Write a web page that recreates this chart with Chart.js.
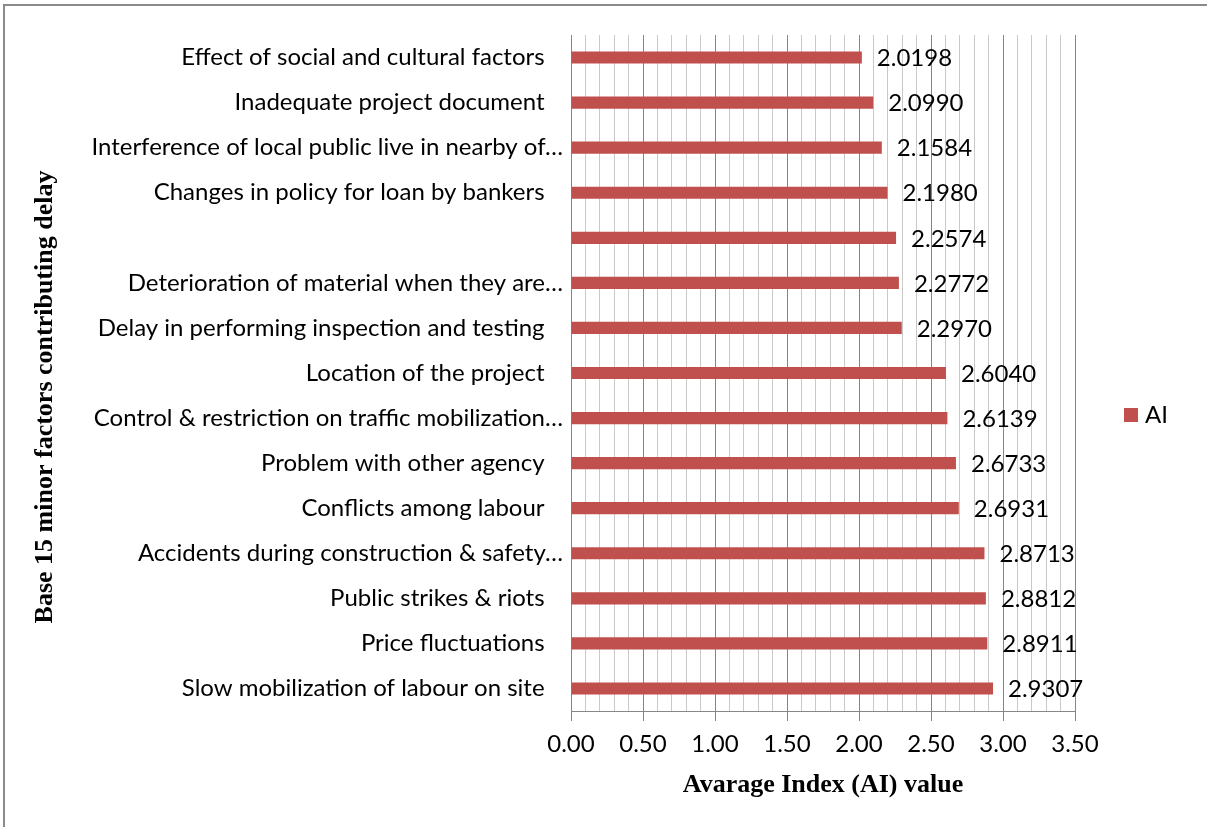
<!DOCTYPE html>
<html>
<head>
<meta charset="utf-8">
<script src="https://cdn.jsdelivr.net/npm/chart.js@4.4.1/dist/chart.umd.min.js"></script>
<style>
  html, body { margin: 0; padding: 0; background: #ffffff; }
  #wrap { width: 1207px; height: 827px; }
</style>
</head>
<body>
<div id="wrap"><canvas id="c" width="1207" height="827"></canvas></div>
<script>
// ---- data ----
const categories = [
  "Effect of social and cultural factors   ",
  "Inadequate project document   ",
  "Interference of local public live in nearby of…",
  "Changes in policy for loan by bankers   ",
  "",
  "Deterioration of material when they are…",
  "Delay in performing inspection and testing   ",
  "Location of the project   ",
  "Control & restriction on traffic mobilization…",
  "Problem with other agency   ",
  "Conflicts among labour   ",
  "Accidents during construction & safety…",
  "Public strikes & riots   ",
  "Price fluctuations   ",
  "Slow mobilization of labour on site   "
];
const aiValues = [2.0198, 2.0990, 2.1584, 2.1980, 2.2574, 2.2772, 2.2970, 2.6040, 2.6139, 2.6733, 2.6931, 2.8713, 2.8812, 2.8911, 2.9307];
const seriesName = "AI";
const xMajorTicks = [0, 0.5, 1, 1.5, 2, 2.5, 3, 3.5];
const xTitle = "Avarage Index (AI) value";
const yTitle = "Base 15 minor factors contributing delay";

const BAR = '#C0504D';
const MAJOR = '#868686';
const MINOR = '#c9c9c9';
const LABEL_FONT = 'Lato, "Open Sans", sans-serif';
const TITLE_FONT = '"Liberation Serif", "Times New Roman", serif';

function isMajor(v) {
  return xMajorTicks.some(t => Math.abs(t - v) < 1e-6);
}

const framePlugin = {
  id: 'frame',
  beforeDraw(chart) {
    const ctx = chart.ctx;
    ctx.save();
    ctx.fillStyle = '#ffffff';
    ctx.fillRect(0, 0, chart.width, chart.height);
    ctx.strokeStyle = '#8a8a8a';
    ctx.lineWidth = 2;
    ctx.beginPath();
    ctx.moveTo(4, chart.height);
    ctx.lineTo(4, 5);
    ctx.lineTo(chart.width, 5);
    ctx.stroke();
    ctx.restore();
  }
};

const valueLabelPlugin = {
  id: 'valueLabels',
  afterDatasetsDraw(chart) {
    const ctx = chart.ctx;
    ctx.save();
    ctx.font = '24px ' + LABEL_FONT;
    ctx.fillStyle = '#000000';
    ctx.textAlign = 'left';
    ctx.textBaseline = 'middle';
    chart.data.datasets.forEach((ds, di) => {
      const meta = chart.getDatasetMeta(di);
      meta.data.forEach((bar, i) => {
        ctx.fillText(Number(ds.data[i]).toFixed(4), bar.x + 15, bar.y + 1);
      });
    });
    ctx.restore();
  }
};

const sideTextPlugin = {
  id: 'sideText',
  afterDraw(chart) {
    const ctx = chart.ctx;
    ctx.save();
    // legend
    const cy = 415;
    ctx.fillStyle = BAR;
    ctx.fillRect(1124, cy - 7, 14, 14);
    ctx.fillStyle = '#000000';
    ctx.font = '24px ' + LABEL_FONT;
    ctx.textAlign = 'left';
    ctx.textBaseline = 'middle';
    ctx.fillText(seriesName, 1145, cy);
    // y axis title
    ctx.translate(45, 397);
    ctx.rotate(-Math.PI / 2);
    ctx.font = 'bold 26px ' + TITLE_FONT;
    ctx.textAlign = 'center';
    ctx.textBaseline = 'middle';
    ctx.fillText(yTitle, 0, 0);
    ctx.restore();
  }
};

new Chart(document.getElementById('c'), {
  type: 'bar',
  data: {
    labels: categories,
    datasets: [{
      label: seriesName,
      data: aiValues,
      backgroundColor: BAR,
      borderWidth: 0,
      categoryPercentage: 1.0,
      barPercentage: 0.27
    }]
  },
  options: {
    indexAxis: 'y',
    responsive: false,
    animation: false,
    devicePixelRatio: 1,
    layout: { padding: { top: 35, right: 132, left: 0, bottom: 0 } },
    plugins: {
      legend: { display: false },
      tooltip: { enabled: false }
    },
    scales: {
      x: {
        min: 0,
        max: 3.5,
        afterFit(scale) { scale.height = 116; },
        ticks: {
          stepSize: 0.1,
          autoSkip: false,
          maxTicksLimit: 100,
          maxRotation: 0,
          padding: 9,
          color: '#000000',
          font: { family: LABEL_FONT, size: 24 },
          callback(v) { return isMajor(v) ? Number(v).toFixed(2) : ''; }
        },
        grid: {
          color(ctx) { return ctx.tick && isMajor(ctx.tick.value) ? MAJOR : MINOR; },
          tickColor(ctx) { return ctx.tick && isMajor(ctx.tick.value) ? MAJOR : 'rgba(0,0,0,0)'; },
          tickLength: 10,
          lineWidth: 1
        },
        border: { display: true, color: MAJOR, width: 1 },
        title: {
          display: true,
          text: xTitle,
          color: '#000000',
          font: { family: TITLE_FONT, size: 26, weight: 'bold' },
          padding: { top: 4, bottom: 26 }
        }
      },
      y: {
        afterFit(scale) { scale.width = 571; },
        ticks: {
          padding: 8,
          color: '#000000',
          autoSkip: false,
          font: { family: LABEL_FONT, size: 24 }
        },
        grid: { display: false, drawTicks: false },
        border: { display: true, color: MAJOR, width: 1 },
        title: { display: false, text: yTitle }
      }
    }
  },
  plugins: [framePlugin, valueLabelPlugin, sideTextPlugin]
});
</script>
</body>
</html>
